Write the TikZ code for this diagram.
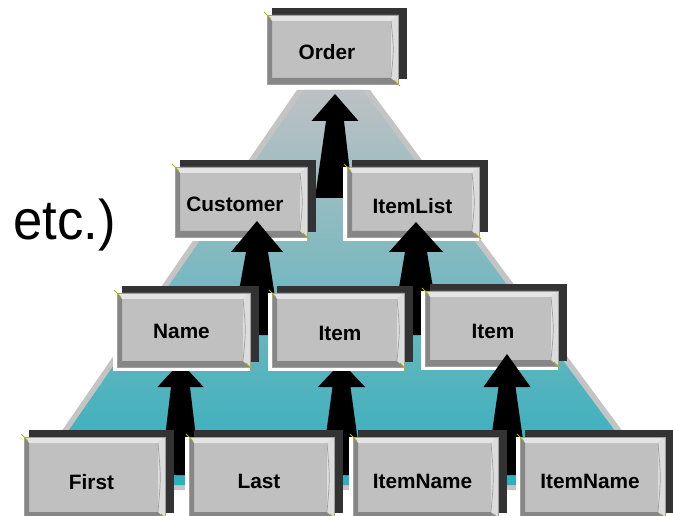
\documentclass[tikz,border=0pt]{standalone}
\usepackage{fontspec}
\setmainfont{Liberation Sans}
\usetikzlibrary{calc}
\definecolor{shadowc}{HTML}{333333}
\definecolor{facec}{HTML}{C0C0C0}
\definecolor{bevlight}{HTML}{E4E4E4}
\definecolor{bevdark}{HTML}{868686}
\definecolor{bevright}{HTML}{DCDCDC}
\definecolor{edgec}{HTML}{A0A0A0}
\definecolor{handlec}{HTML}{B8B400}
\definecolor{trapborder}{HTML}{C4C4C4}
\definecolor{traptop}{HTML}{BDC1C3}
\definecolor{trapbot}{HTML}{2EAFBC}
\tikzset{
  facebox/.style={fill=facec, draw=none, inner sep=0pt, outer sep=0pt},
  lbl/.style={font=\bfseries\fontsize{20.8}{24}\selectfont, anchor=base, inner sep=0pt},
  handle/.style={draw=handlec, line width=0.9pt},
  arrowc/.style={fill=black},
}
% bevelled box: name, x0, y0, x1, y1
\newcommand\bevbox[5]{%
  \fill[shadowc] (#2+5,#3-7) rectangle (#4+9,#5-5);
  \fill[white] (#2-4,#3) rectangle (#4,#5+4);
  \node[facebox, minimum width={(#4-#2)*1pt}, minimum height={(#5-#3)*1pt}, anchor=north west] (#1) at (#2,#3) {};
  \fill[bevlight] (#2,#3) -- (#4,#3) -- (#4-7,#3+6) -- (#2+5,#3+6) -- cycle;
  \fill[bevdark] (#2,#3) -- (#2+5,#3+6) -- (#2+5,#5-6) -- (#2,#5) -- cycle;
  \fill[bevdark] (#2,#5) -- (#2+5,#5-6) -- (#4-7,#5-6) -- (#4,#5) -- cycle;
  \fill[bevright] (#4,#3) -- (#4,#5) -- (#4-7,#5-6) -- (#4-7,#3+6) -- cycle;
  \draw[edgec, line width=0.7pt] (#4-7,#3+6) .. controls (#4-4,#5*0.5+#3*0.5) .. (#4-7,#5-6);
  \draw[edgec, line width=0.8pt] (#2,#3) rectangle (#4,#5);
  \draw[handle] (#2-3,#3-3) -- (#2+4,#3+4);
  \draw[handle] (#4-4,#5-4) -- (#4+2,#5+2);
}
% block arrow: bottom coord, tip coord, head length, head half width, shaft top half, shaft bottom half
\newcommand\blockarrow[6]{%
  \fill[arrowc] ($(#1)+(-#6,0)$) -- ($(#2)+(-#5,#3)$) -- ($(#2)+(-#4,#3)$) -- (#2)
    -- ($(#2)+(#4,#3)$) -- ($(#2)+(#5,#3)$) -- ($(#1)+(#6,0)$) -- cycle;
}
\begin{document}
\begin{tikzpicture}[x=1pt, y=-1pt]
\useasboundingbox (0,0) rectangle (673,516);
\fill[white] (0,0) rectangle (673,516);

% pyramid background
\fill[trapborder] (297,90) -- (370,90) -- (666,490) -- (21,490) -- cycle;
\shade[top color=traptop, bottom color=trapbot] (304,90) -- (363,90) -- (655,485) -- (31,485) -- cycle;

% top box
\bevbox{order}{267}{15}{398}{84}
\node[lbl] (orderlbl) at (327,60) {Order};

% arrow into Order
\coordinate (a0b) at (334,198);
\coordinate (a0t) at (335,94);
\blockarrow{a0b}{a0t}{27}{23.5}{9}{19}

% second row
\bevbox{cust}{175}{167}{307}{237}
\node[lbl] (custlbl) at (235,212) {Customer};
\bevbox{ilist}{347}{167}{479}{237}
\node[lbl] (ilistlbl) at (412.5,214) {ItemList};

% arrows into second row
\coordinate (a1b) at (256,335);
\coordinate (a1t) at (257,221);
\blockarrow{a1b}{a1t}{31}{26}{11}{25}
\coordinate (a2b) at (416,335);
\coordinate (a2t) at (416,222);
\blockarrow{a2b}{a2t}{30}{27}{11}{25}

% arrows hidden under third row
\coordinate (a3b) at (180.5,475);
\coordinate (a3t) at (180.5,362);
\blockarrow{a3b}{a3t}{25}{23}{9.5}{20}
\coordinate (a4b) at (341.5,475);
\coordinate (a4t) at (341.5,362);
\blockarrow{a4b}{a4t}{25}{23.5}{9}{21}

% third row
\bevbox{name}{117}{293}{250}{367}
\node[lbl] (namelbl) at (181.5,338) {Name};
\bevbox{itema}{272}{293}{404}{367}
\node[lbl] (itemalbl) at (340,341) {Item};
\bevbox{itemb}{425}{291}{558}{366}
\node[lbl] (itemblbl) at (493,338) {Item};

% arrow over third row
\coordinate (a5b) at (507,475);
\coordinate (a5t) at (507,354);
\blockarrow{a5b}{a5t}{33}{23.5}{8.5}{21}

% bottom row
\bevbox{first}{24}{437}{165}{518}
\node[lbl] (firstlbl) at (91.5,489) {First};
\bevbox{last}{189}{437}{334}{518}
\node[lbl] (lastlbl) at (259,488.5) {Last};
\bevbox{inamea}{353}{437}{498}{518}
\node[lbl] (inamealbl) at (422.5,488.5) {ItemName};
\bevbox{inameb}{520}{437}{665}{518}
\node[lbl] (inameblbl) at (590,488.5) {ItemName};

% side text
\node[anchor=base west, inner sep=0pt, font=\fontsize{56}{60}\selectfont] (etc) at (13,240) {\scalebox{0.94}[1]{etc.)}};
\end{tikzpicture}
\end{document}
